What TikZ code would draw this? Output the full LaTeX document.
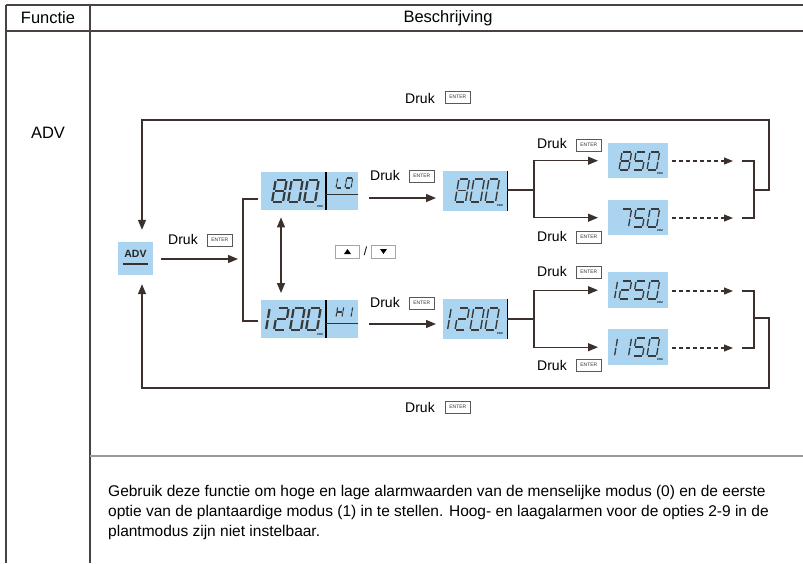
\documentclass[tikz,border=0pt]{standalone}
\usepackage{fontspec}
\setmainfont{Liberation Sans}
\usetikzlibrary{arrows.meta}
\definecolor{lcd}{HTML}{AAD4F0}
\definecolor{ink}{HTML}{3B302C}
\definecolor{segc}{HTML}{3A3A3A}
\definecolor{tblc}{HTML}{4A4240}
% seven segment pieces (local unit box, y negative = up)
\newcommand\sga{\draw[segst] (0.1,-1)--(0.9,-1);}
\newcommand\sgb{\draw[segst] (1,-0.95)--(1,-0.55);}
\newcommand\sgc{\draw[segst] (1,-0.45)--(1,-0.05);}
\newcommand\sgd{\draw[segst] (0.1,0)--(0.9,0);}
\newcommand\sge{\draw[segst] (0,-0.05)--(0,-0.45);}
\newcommand\sgf{\draw[segst] (0,-0.55)--(0,-0.95);}
\newcommand\sgg{\draw[segst] (0.1,-0.5)--(0.9,-0.5);}
\newcommand\dZ{a,b,c,d,e,f}
\newcommand\dI{b,c}
\newcommand\dT{a,b,g,e,d}
\newcommand\dF{a,f,g,c,d}
\newcommand\dS{a,b,c}
\newcommand\dE{a,b,c,d,e,f,g}
\newcommand\dL{d,e,f}
\newcommand\dH{b,c,e,f,g}
\newcommand\dig[6]{%
  \begin{scope}[shift={(#1,#2)},xslant=0.17,xscale=#3,yscale=#4,
     segst/.style={draw=segc,line width=#5pt,line cap=butt}]
  \foreach \s in #6 {\csname sg\s\endcsname}
  \end{scope}}
\newcommand\ppm[3]{\node[ppmst,anchor=north east] (#1) at (#2,#3) {PPM};}
\newcommand\druk[5]{%
  \node[drk,anchor=west] (#1) at (#2,#4) {Druk};
  \node[entbox,anchor=west] (#1e) at (#3,#5) {ENTER};}
\begin{document}
\begin{tikzpicture}[x=1pt,y=-1pt,
  tbl/.style={draw=tblc,line width=1.1pt},
  sep/.style={draw=gray!80,line width=1.3pt},
  hdr/.style={font=\fontsize{16.5}{16.5}\selectfont,inner sep=0pt,text=black},
  desc/.style={font=\fontsize{15.5}{15.5}\selectfont,inner sep=0pt,text=black,anchor=base west},
  drk/.style={font=\fontsize{14}{14}\selectfont,inner sep=0pt,text=black},
  entbox/.style={draw=gray!70!black,line width=0.6pt,minimum width=25pt,minimum height=12pt,inner sep=0pt,
     font=\fontsize{5}{5}\selectfont,text=black!80},
  lcdbox/.style={fill=lcd,inner sep=0pt,anchor=north west},
  ppmst/.style={font=\fontsize{2.6}{2.6}\selectfont\bfseries,inner sep=0pt,text=black},
  ln/.style={draw=ink,line width=1.3pt},
  arr/.style={ln,-{Triangle[length=10pt,width=8pt]}},
  arrb/.style={ln,{Triangle[length=10pt,width=8pt]}-{Triangle[length=10pt,width=8pt]}},
  darr/.style={draw=ink,line width=1.2pt,dash pattern=on 4pt off 3pt,-{Triangle[length=9pt,width=7pt]}},
  btn/.style={draw=gray!70,line width=0.8pt,minimum width=24pt,minimum height=13pt,inner sep=0pt}]
\useasboundingbox (0,0) rectangle (803,563);
% table
\draw[tbl] (6,5) -- (803,5);
\draw[tbl] (6,31) -- (803,31);
\draw[tbl] (6,5) -- (6,563);
\draw[tbl] (90,5) -- (90,563);
\draw[sep] (90,456) -- (803,456);
\node[hdr] (hf) at (48,18) {Functie};
\node[hdr] (hb) at (448,18) {Beschrijving};
\node[hdr] (fadv) at (48,133) {ADV};
\node[desc] (d1) at (108,496) {Gebruik deze functie om hoge en lage alarmwaarden van de menselijke modus (0) en de eerste};
\node[desc] (d2) at (108,516) {optie van de plantaardige modus (1) in te stellen. Hoog- en laagalarmen voor de opties 2-9 in de};
\node[desc] (d3) at (108,536) {plantmodus zijn niet instelbaar.};
% ADV box
\node[fill=lcd,minimum width=35pt,minimum height=33pt,inner sep=0pt] (adv) at (135.5,258.5) {};
\node[font=\fontsize{10.5}{10.5}\selectfont\bfseries,inner sep=0pt,text=black!85] (advt) at (135.5,254) {ADV};
\draw[ln,line width=1.2pt] (123,264) -- (148,264);
% LCD boxes
\node[lcdbox,minimum width=97pt,minimum height=38pt] (lo) at (261,172) {};
\node[lcdbox,minimum width=97pt,minimum height=38pt] (hi) at (261,300) {};
\node[lcdbox,minimum width=64pt,minimum height=40pt] (m8) at (443,171) {};
\node[lcdbox,minimum width=64pt,minimum height=40pt] (m12) at (443,299) {};
\node[lcdbox,minimum width=60pt,minimum height=35pt] (v850) at (608,143) {};
\node[lcdbox,minimum width=60pt,minimum height=35pt] (v750) at (608,200) {};
\node[lcdbox,minimum width=60pt,minimum height=36pt] (v1250) at (608,272) {};
\node[lcdbox,minimum width=60pt,minimum height=36pt] (v1150) at (608,329) {};
% LCD internal lines
\draw[draw=black,line width=1.2pt] (326,172) -- (326,210);
\draw[draw=gray!40!black,line width=1pt] (326,194) -- (358,194);
\draw[draw=black,line width=1.2pt] (326,300) -- (326,338);
\draw[draw=gray!40!black,line width=1pt] (326,323) -- (358,323);
\draw[draw=black,line width=1.2pt] (m8.north east) -- (m8.south east);
\draw[draw=black,line width=1.2pt] (m12.north east) -- (m12.south east);
% digits
\dig{272}{202}{11}{22}{2.2}{\dE}\dig{288}{202}{11}{22}{2.2}{\dZ}\dig{304}{202}{11}{22}{2.2}{\dZ}
\dig{336}{188}{6}{10}{1.1}{\dL}\dig{345}{188}{6}{10}{1.1}{\dZ}
\ppm{p1}{323}{206}
\dig{255}{330}{11}{22}{2.2}{\dI}\dig{274}{330}{11}{22}{2.2}{\dT}\dig{290}{330}{11}{22}{2.2}{\dZ}\dig{306}{330}{11}{22}{2.2}{\dZ}
\dig{336}{317}{6}{10}{1.1}{\dH}\dig{345}{317}{6}{10}{1.1}{\dI}
\ppm{p2}{323}{334}
\dig{455}{202}{10.5}{23}{1.4}{\dE}\dig{470}{202}{10.5}{23}{1.4}{\dZ}\dig{485}{202}{10.5}{23}{1.4}{\dZ}
\ppm{p3}{503}{205}
\dig{437}{330}{10.5}{22}{1.4}{\dI}\dig{455}{330}{10.5}{22}{1.4}{\dT}\dig{470}{330}{10.5}{22}{1.4}{\dZ}\dig{485}{330}{10.5}{22}{1.4}{\dZ}
\ppm{p4}{503}{333}
\dig{619}{170}{9.5}{18}{1.3}{\dE}\dig{633}{170}{9.5}{18}{1.3}{\dF}\dig{647}{170}{9.5}{18}{1.3}{\dZ}
\ppm{p5}{663}{173}
\dig{619}{227}{9.5}{18}{1.3}{\dS}\dig{633}{227}{9.5}{18}{1.3}{\dF}\dig{647}{227}{9.5}{18}{1.3}{\dZ}
\ppm{p6}{663}{230}
\dig{605}{299}{9.5}{18}{1.3}{\dI}\dig{619}{299}{9.5}{18}{1.3}{\dT}\dig{633}{299}{9.5}{18}{1.3}{\dF}\dig{647}{299}{9.5}{18}{1.3}{\dZ}
\ppm{p7}{663}{302}
\dig{605}{356}{9.5}{18}{1.3}{\dI}\dig{619}{356}{9.5}{18}{1.3}{\dI}\dig{633}{356}{9.5}{18}{1.3}{\dF}\dig{647}{356}{9.5}{18}{1.3}{\dZ}
\ppm{p8}{663}{359}
% buttons
\node[btn] (bup) at (347.5,251.5) {};
\node[btn] (bdn) at (383.5,251.5) {};
\node[font=\fontsize{12}{12}\selectfont,inner sep=0pt] (slash) at (365.5,251.5) {/};
\fill[black] (344,254) -- (351,254) -- (347.5,249) -- cycle;
\fill[black] (380,249) -- (387,249) -- (383.5,254) -- cycle;
% Druk labels
\druk{k0}{405}{445}{98}{97}
\druk{k1}{168}{207}{239}{240}
\druk{k2}{370}{409}{175}{176}
\druk{k3}{537}{576}{143}{145}
\druk{k4}{537}{576}{236}{237}
\druk{k5}{370}{409}{302}{303}
\druk{k6}{537}{576}{271}{272}
\druk{k7}{537}{576}{365}{365}
\druk{k8}{405}{445}{407}{407}
% coordinates
\coordinate (sl) at (243,259);
\coordinate (y199) at (0,199);
\coordinate (y321) at (0,321);
\coordinate (ya) at (0,198);
\coordinate (yb) at (0,324);
\coordinate (dblx) at (281,0);
\coordinate (lx) at (142,0);
\coordinate (s1) at (534,190);
\coordinate (s2) at (534,319);
\coordinate (t1) at (742,161);
\coordinate (t2) at (742,218);
\coordinate (t3) at (742,291);
\coordinate (t4) at (742,348);
\coordinate (c1) at (754,190);
\coordinate (c2) at (754,318);
\coordinate (ltop) at (769,120);
\coordinate (lbot) at (769,388);
% connectors
\draw[arr,shorten <=8pt,shorten >=5pt] (adv.east |- sl) -- (sl);
\draw[ln,shorten <=3pt,shorten >=3pt] (lo.west |- y199) -| (sl) |- (hi.west |- y321);
\draw[arrb,shorten <=7pt,shorten >=7pt] (lo.south -| dblx) -- (hi.north -| dblx);
\draw[arr,shorten <=11pt,shorten >=7pt] (lo.east |- ya) -- (m8.west |- ya);
\draw[arr,shorten <=11pt,shorten >=7pt] (hi.east |- yb) -- (m12.west |- yb);
\draw[ln] (m8.east |- s1) -- (s1);
\draw[arr,shorten >=10pt] (s1) |- (v850.west);
\draw[arr,shorten >=10pt] (s1) |- (v750.west);
\draw[ln] (m12.east |- s2) -- (s2);
\draw[arr,shorten >=10pt] (s2) |- (v1250.west);
\draw[arr,shorten >=10pt] (s2) |- (v1150.west);
\draw[darr,shorten <=4pt,shorten >=9pt] (v850.east |- t1) -- (t1);
\draw[darr,shorten <=4pt,shorten >=9pt] (v750.east |- t2) -- (t2);
\draw[darr,shorten <=4pt,shorten >=9pt] (v1250.east |- t3) -- (t3);
\draw[darr,shorten <=4pt,shorten >=9pt] (v1150.east |- t4) -- (t4);
\draw[ln] (t1) -| (c1) |- (t2);
\draw[ln] (t3) -| (c2) |- (t4);
\draw[arr,shorten >=12pt] (c1) -| (ltop) -| (adv.north -| lx);
\draw[arr,shorten >=9pt] (c2) -| (lbot) -| (adv.south -| lx);
\end{tikzpicture}
\end{document}
